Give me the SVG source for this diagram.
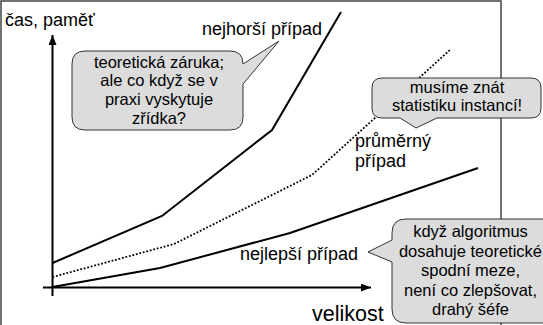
<svg xmlns="http://www.w3.org/2000/svg" width="543" height="325" viewBox="0 0 543 325">
<style>
text{font-family:"Liberation Sans",Arial,sans-serif;fill:#000}
.lbl{font-size:18px}
.bt{font-size:16.5px;text-anchor:middle}
.curve{fill:none;stroke:#000;stroke-width:2;stroke-linejoin:miter}
.dot{fill:none;stroke:#000;stroke-width:1.8;stroke-dasharray:1.8 1.8}
.axis{fill:none;stroke:#000;stroke-width:2}
.bub{fill:#dcdcdc;stroke:#333;stroke-width:1}
.frame{fill:none;stroke:#444;stroke-width:1.5}
</style>
<defs>
<marker id="ah" markerWidth="10" markerHeight="8" refX="10" refY="4" orient="auto" markerUnits="userSpaceOnUse">
<path d="M0,0 L10,4 L0,8 Z" fill="#000"/>
</marker>
</defs>
<rect width="543" height="325" fill="#fff"/>
<path class="frame" d="M1,330 V1 H501 V330"/>
<g id="connectors">
<line class="axis" x1="52.5" y1="296" x2="52.5" y2="35" marker-end="url(#ah)"/>
<line class="axis" x1="43" y1="287.5" x2="371" y2="287.5" marker-end="url(#ah)"/>
<polyline id="worst" class="curve" points="52.5,263 162,216 272,130 341,12"/>
<polyline id="average" class="dot" points="52.5,277 174,244 312,175 451,49"/>
<polyline id="best" class="curve" points="52.5,287 160,268 290,233 478,168"/>
</g>
<g id="axis-y-label"><text class="lbl" x="5" y="26">čas, paměť</text></g>
<g id="axis-x-label"><text x="312" y="320.5" style="font-size:21.5px">velikost</text></g>
<g id="label-worst"><text class="lbl" x="202" y="35">nejhorší případ</text></g>
<g id="label-average"><text class="lbl" x="355" y="147">průměrný</text><text class="lbl" x="355" y="167">případ</text></g>
<g id="label-best"><text class="lbl" x="240" y="260">nejlepší případ</text></g>
<g id="bubble-worst">
<path class="bub" d="M85,51 H230 Q243,51 243,64 L279,41 L243,84 V117 Q243,130 230,130 H85 Q72,130 72,117 V64 Q72,51 85,51 Z"/>
<text class="bt" x="159" y="67.5">teoretická záruka;</text>
<text class="bt" x="159" y="86.2">ale co když se v</text>
<text class="bt" x="159" y="104.9">praxi vyskytuje</text>
<text class="bt" x="159" y="123.6">zřídka?</text>
</g>
<g id="bubble-average">
<path class="bub" d="M382,78 H531 Q541,78 541,88 V108 Q541,118 531,118 H437 L416,128 L400,118 H382 Q372,118 372,108 V88 Q372,78 382,78 Z"/>
<text class="bt" x="457" y="93">musíme znát</text>
<text class="bt" x="457" y="111">statistiku instancí!</text>
</g>
<g id="bubble-best">
<path class="bub" d="M406,219 H560 V323 H406 Q392,323 392,309 V262 L368,252 L392,240 V233 Q392,219 406,219 Z"/>
<text class="bt" x="470.5" y="237">když algoritmus</text>
<text class="bt" x="470.5" y="256.5">dosahuje teoretické</text>
<text class="bt" x="470.5" y="276">spodní meze,</text>
<text class="bt" x="470.5" y="295.5">není co zlepšovat,</text>
<text class="bt" x="470.5" y="315">drahý šéfe</text>
</g>
</svg>
